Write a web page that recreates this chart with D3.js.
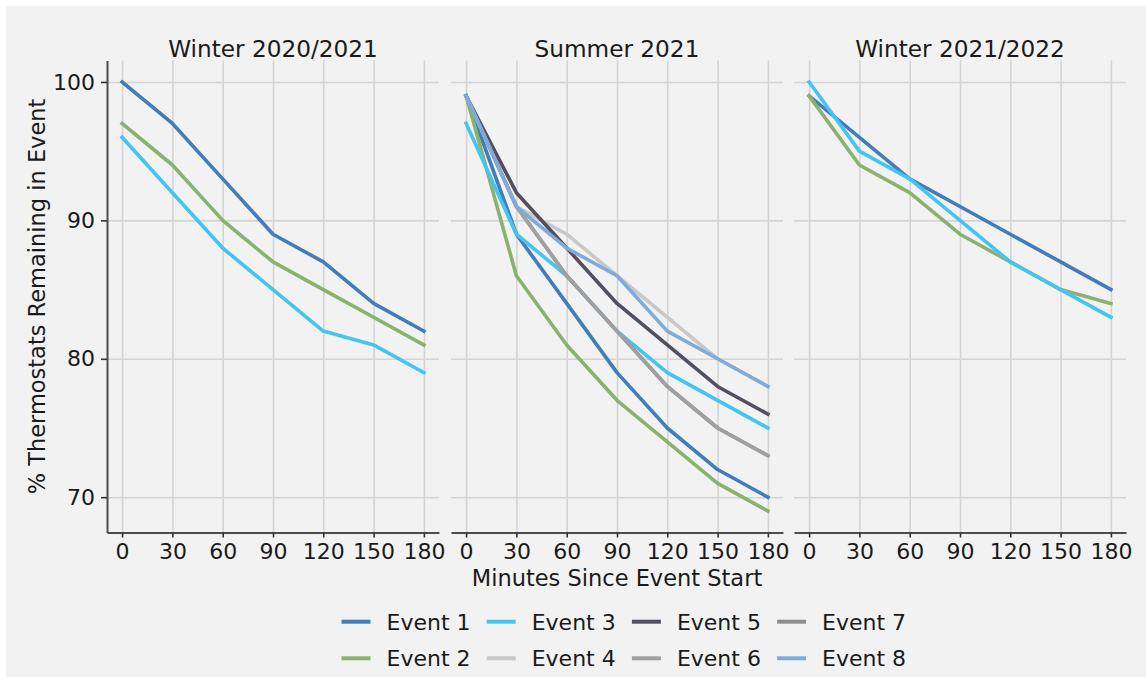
<!DOCTYPE html>
<html>
<head>
<meta charset="utf-8">
<script src="https://cdn.jsdelivr.net/npm/d3@7"></script>
<style>
  body { margin: 0; background: #ffffff; }
  svg { display: block; font-family: "DejaVu Sans", sans-serif; }
</style>
</head>
<body>
<svg id="chart"></svg>
<script>
// minutes since event start (x values, shared by every panel)
const minutes = [0, 30, 60, 90, 120, 150, 180];
const yTicks = [70, 80, 90, 100];

const panelTitles = ["Winter 2020/2021", "Summer 2021", "Winter 2021/2022"];

const eventNames = ["Event 1", "Event 2", "Event 3", "Event 4", "Event 5", "Event 6", "Event 7", "Event 8"];
const eventColors = ["#427db9", "#8ab26f", "#45c4f0", "#c8c8c8", "#52505e", "#a0a0a0", "#8c8e91", "#7fabd9"];

// Winter 2020/2021 : events 1-3
const winter2020Events = [0, 1, 2];
const winter2020Values = [
    [100, 97, 93, 89, 87, 84, 82],
    [97, 94, 90, 87, 85, 83, 81],
    [96, 92, 88, 85, 82, 81, 79]
];

// Summer 2021 : events 1-8
const summer2021Events = [0, 1, 2, 3, 4, 6, 5, 7];
const summer2021Values = [
    [99, 89, 84, 79, 75, 72, 70],
    [99, 86, 81, 77, 74, 71, 69],
    [97, 89, 86, 82, 79, 77, 75],
    [99, 91, 89, 86, 83, 80, 78],
    [99, 92, 88, 84, 81, 78, 76],
    [99, 91, 86, 82, 78, 75, 73],
    [99, 91, 86, 82, 78, 75, 73],
    [99, 91, 88, 86, 82, 80, 78]
];

// Winter 2021/2022 : events 1-3
const winter2021Events = [0, 1, 2];
const winter2021Values = [
    [99, 96, 93, 91, 89, 87, 85],
    [99, 94, 92, 89, 87, 85, 84],
    [100, 95, 93, 90, 87, 85, 83]
];

const panels = [
    { events: winter2020Events, values: winter2020Values },
    { events: summer2021Events, values: summer2021Values },
    { events: winter2021Events, values: winter2021Values }
];

const width = 1146, height = 677;
const plotTop = 60.5, plotBottom = 532.5;
const panelX = [[107, 439], [451, 783], [794, 1126]];

const svg = d3.select("#chart")
    .attr("width", width)
    .attr("height", height);

svg.append("rect")
    .attr("x", 6).attr("y", 6)
    .attr("width", width - 6).attr("height", height - 6)
    .attr("fill", "#f2f2f2");

const y = d3.scaleLinear()
    .domain([67.45, 101.55])
    .range([plotBottom, plotTop]);

const line = (x) => d3.line()
    .x((d, i) => x(minutes[i]))
    .y(d => y(d));

panels.forEach((p, k) => {
    const x = d3.scaleLinear()
        .domain([-9, 189])
        .range(panelX[k]);

    const g = svg.append("g");

    // vertical grid
    g.append("g")
        .attr("transform", "translate(0," + plotBottom + ")")
        .call(d3.axisBottom(x).tickValues(minutes).tickSize(-(plotBottom - plotTop)).tickFormat(""))
        .call(a => a.select(".domain").remove())
        .call(a => a.selectAll("line").attr("stroke", "#d4d4d4").attr("stroke-width", 1.6));

    // horizontal grid
    g.append("g")
        .attr("transform", "translate(" + panelX[k][0] + ",0)")
        .call(d3.axisLeft(y).tickValues(yTicks).tickSize(-(panelX[k][1] - panelX[k][0])).tickFormat(""))
        .call(a => a.select(".domain").remove())
        .call(a => a.selectAll("line").attr("stroke", "#d4d4d4").attr("stroke-width", 1.6));

    // event lines
    p.events.forEach((e, j) => {
        g.append("path")
            .datum(p.values[j])
            .attr("fill", "none")
            .attr("stroke", eventColors[e])
            .attr("stroke-width", 3.6)
            .attr("stroke-linejoin", "round")
            .attr("stroke-linecap", "square")
            .attr("d", line(x));
    });

    // x axis
    g.append("g")
        .attr("transform", "translate(0," + plotBottom + ")")
        .call(d3.axisBottom(x).tickValues(minutes).tickSize(5).tickSizeOuter(0).tickPadding(6))
        .call(a => a.select(".domain").attr("stroke", "#4d4d4d").attr("stroke-width", 2))
        .call(a => a.selectAll("line").attr("stroke", "#333").attr("stroke-width", 1.6))
        .call(a => a.selectAll("text")
            .attr("font-family", "DejaVu Sans")
            .attr("font-size", 22)
            .attr("fill", "#1a1a1a"));

    if (k == 0) {
        g.append("g")
            .attr("transform", "translate(" + panelX[k][0] + ",0)")
            .call(d3.axisLeft(y).tickValues(yTicks).tickSize(6).tickSizeOuter(0).tickPadding(6))
            .call(a => a.select(".domain").attr("stroke", "#4d4d4d").attr("stroke-width", 2))
            .call(a => a.selectAll("line").attr("stroke", "#333").attr("stroke-width", 1.6))
            .call(a => a.selectAll("text")
                .attr("font-family", "DejaVu Sans")
                .attr("font-size", 22)
                .attr("fill", "#1a1a1a"));
    }

    svg.append("text")
        .attr("x", (panelX[k][0] + panelX[k][1]) / 2)
        .attr("y", 56.5)
        .attr("text-anchor", "middle")
        .attr("font-size", 23.2)
        .attr("fill", "#1a1a1a")
        .text(panelTitles[k]);
});

// axis labels
svg.append("text")
    .attr("x", (panelX[1][0] + panelX[1][1]) / 2)
    .attr("y", 586)
    .attr("text-anchor", "middle")
    .attr("font-size", 22.5)
    .attr("fill", "#1a1a1a")
    .text("Minutes Since Event Start");

svg.append("text")
    .attr("transform", "translate(45," + (plotTop + plotBottom) / 2 + ") rotate(-90)")
    .attr("text-anchor", "middle")
    .attr("font-size", 22.5)
    .attr("fill", "#1a1a1a")
    .text("% Thermostats Remaining in Event");

// legend, 4 columns x 2 rows, filled column by column
const legend = svg.append("g");
eventNames.forEach((name, i) => {
    const col = Math.floor(i / 2), row = i % 2;
    const lx = 341.5 + col * 145.2, ly = 621.7 + row * 36.6;
    legend.append("line")
        .attr("x1", lx).attr("x2", lx + 29)
        .attr("y1", ly).attr("y2", ly)
        .attr("stroke", eventColors[i])
        .attr("stroke-width", 4);
    legend.append("text")
        .attr("x", lx + 45)
        .attr("y", ly + 8)
        .attr("font-size", 22)
        .attr("fill", "#1a1a1a")
        .text(name);
});
</script>
</body>
</html>
